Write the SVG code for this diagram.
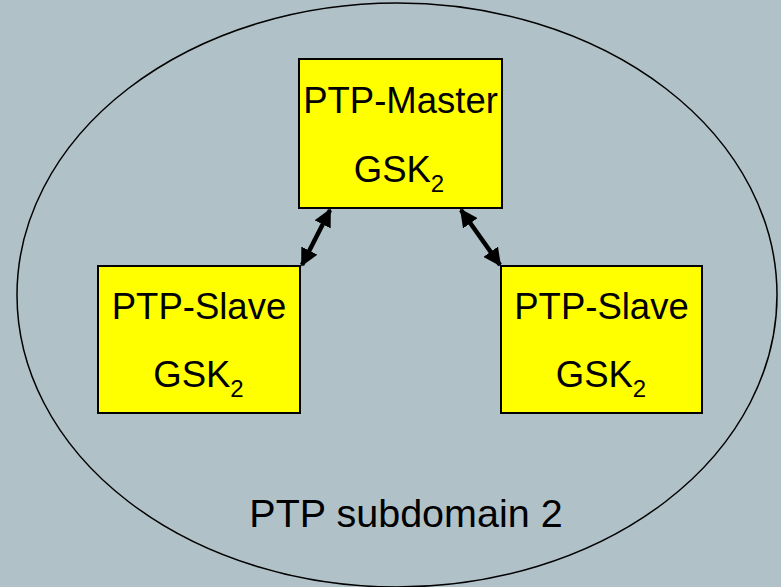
<svg xmlns="http://www.w3.org/2000/svg" width="781" height="587" viewBox="0 0 781 587">
<style>
.box{fill:#FFFF00;stroke:#000;stroke-width:2}
.t{font-family:"Liberation Sans",Arial,sans-serif;font-size:36.5px;fill:#000;text-anchor:middle}
.big{font-size:39.5px}
.sub{font-size:24px}
.con{stroke:#000;stroke-width:4.5;fill:none;marker-start:url(#ah);marker-end:url(#ah)}
</style>
<defs>
<marker id="ah" viewBox="0 0 10 10" refX="9" refY="5" markerWidth="4" markerHeight="4" orient="auto-start-reverse" markerUnits="strokeWidth">
<path d="M0,0 L10,5 L0,10 z" fill="#000"/>
</marker>
</defs>
<rect width="781" height="587" fill="#B0C2C8"/>
<g id="domain">
<ellipse cx="397" cy="295" rx="380" ry="292" fill="none" stroke="#000" stroke-width="1.5"/>
<text class="t big" x="406" y="527">PTP subdomain 2</text>
</g>
<g id="connectors">
<line class="con" x1="302" y1="265" x2="330" y2="210"/>
<line class="con" x1="500" y1="265" x2="461" y2="210"/>
</g>
<g id="master">
<rect class="box" x="299" y="59" width="203" height="149"/>
<text class="t" x="400.5" y="113">PTP-Master</text>
<text class="t" x="399" y="182">GSK<tspan class="sub" dy="10">2</tspan></text>
</g>
<g id="slave-left">
<rect class="box" x="98" y="266" width="202" height="147"/>
<text class="t" x="199" y="319">PTP-Slave</text>
<text class="t" x="198.5" y="387">GSK<tspan class="sub" dy="10">2</tspan></text>
</g>
<g id="slave-right">
<rect class="box" x="501" y="266" width="201" height="147"/>
<text class="t" x="601.5" y="319">PTP-Slave</text>
<text class="t" x="601" y="387">GSK<tspan class="sub" dy="10">2</tspan></text>
</g>
</svg>
